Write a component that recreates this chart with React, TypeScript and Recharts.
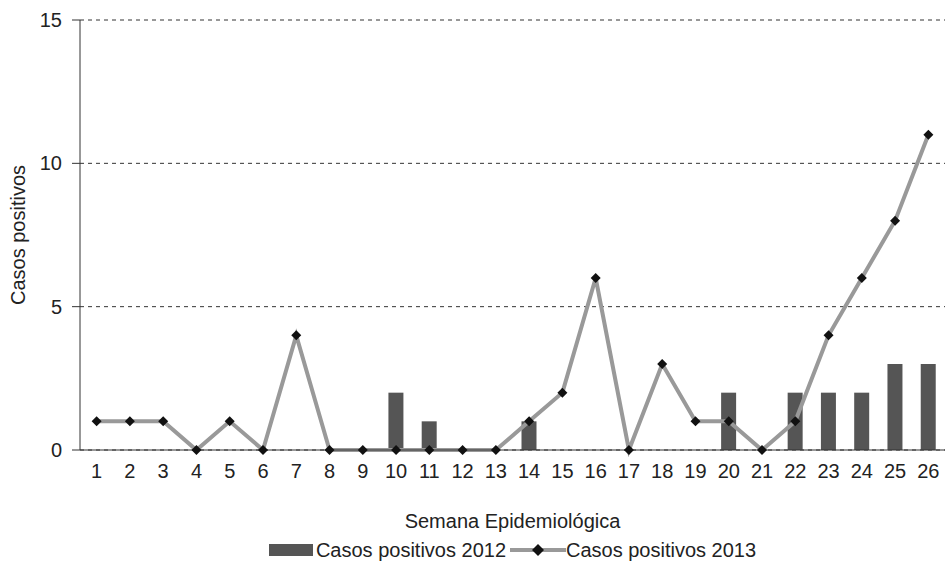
import { ComposedChart, Bar, Line, XAxis, YAxis, CartesianGrid, Legend } from 'recharts'

const weeks = ['1', '2', '3', '4', '5', '6', '7', '8', '9', '10', '11', '12', '13', '14', '15', '16', '17', '18', '19', '20', '21', '22', '23', '24', '25', '26']
const casos2012 = [0, 0, 0, 0, 0, 0, 0, 0, 0, 2, 1, 0, 0, 1, 0, 0, 0, 0, 0, 2, 0, 2, 2, 2, 3, 3]
const casos2013 = [1, 1, 1, 0, 1, 0, 4, 0, 0, 0, 0, 0, 0, 1, 2, 6, 0, 3, 1, 1, 0, 1, 4, 6, 8, 11]
const yTicks = [0, 5, 10, 15]

const data = weeks.map((w, i) => ({ week: w, c2012: casos2012[i], c2013: casos2013[i] }))

const FONT = '"Liberation Sans", Arial, sans-serif'
const BAR_COLOR = '#555555'
const LINE_COLOR = '#999999'

function Diamond(props: any) {
    const { cx, cy, index } = props
    const s = 5
    return (
        <path
            key={index}
            d={`M${cx},${cy - s} L${cx + s},${cy} L${cx},${cy + s} L${cx - s},${cy} Z`}
            fill="#111"
        />
    )
}

function LegendContent() {
    return (
        <div style={{ display: 'flex', justifyContent: 'center', alignItems: 'center', fontFamily: FONT, fontSize: 20, color: '#222', lineHeight: '24px', paddingLeft: 80 }}>
            <svg width={46} height={14} style={{ marginRight: 1 }}>
                <rect x={0} y={1} width={44} height={12} fill={BAR_COLOR} />
            </svg>
            <span>Casos positivos 2012</span>
            <svg width={56} height={14} style={{ marginLeft: 4 }}>
                <line x1={0} y1={7} x2={56} y2={7} stroke={LINE_COLOR} strokeWidth={4} />
                <path d="M28,1 L34,7 L28,13 L22,7 Z" fill="#111" />
            </svg>
            <span>Casos positivos 2013</span>
        </div>
    )
}

export default function App() {
    return (
        <div style={{ position: 'absolute', left: 0, top: 0, background: '#fff' }}>
            <ComposedChart
                width={945}
                height={562}
                data={data}
                margin={{ top: 20, right: 0, left: 0, bottom: 0 }}
            >
                <CartesianGrid vertical={false} stroke="#333" strokeDasharray="4 4" />
                <XAxis
                    dataKey="week"
                    tickLine={false}
                    axisLine={{ stroke: '#333' }}
                    tick={{ fill: '#222', fontSize: 20, fontFamily: FONT }}
                    tickMargin={8}
                    interval={0}
                    height={88}
                    label={{ value: 'Semana Epidemiológica', position: 'insideBottom', offset: 10, fill: '#222', fontSize: 20, fontFamily: FONT }}
                />
                <YAxis
                    domain={[0, 15]}
                    ticks={yTicks}
                    width={80}
                    tickSize={8}
                    tickMargin={10}
                    tickLine={{ stroke: '#333' }}
                    axisLine={{ stroke: '#333' }}
                    tick={{ fill: '#222', fontSize: 20, fontFamily: FONT }}
                    label={{ value: 'Casos positivos', angle: -90, position: 'insideLeft', offset: 18, fill: '#222', fontSize: 20, fontFamily: FONT, style: { textAnchor: 'middle' } }}
                />
                <Legend verticalAlign="bottom" height={24} content={<LegendContent />} />
                <Bar dataKey="c2012" fill={BAR_COLOR} barSize={15} isAnimationActive={false} />
                <Line
                    dataKey="c2013"
                    stroke={LINE_COLOR}
                    strokeWidth={4}
                    type="linear"
                    dot={Diamond}
                    activeDot={false}
                    isAnimationActive={false}
                />
            </ComposedChart>
        </div>
    )
}
